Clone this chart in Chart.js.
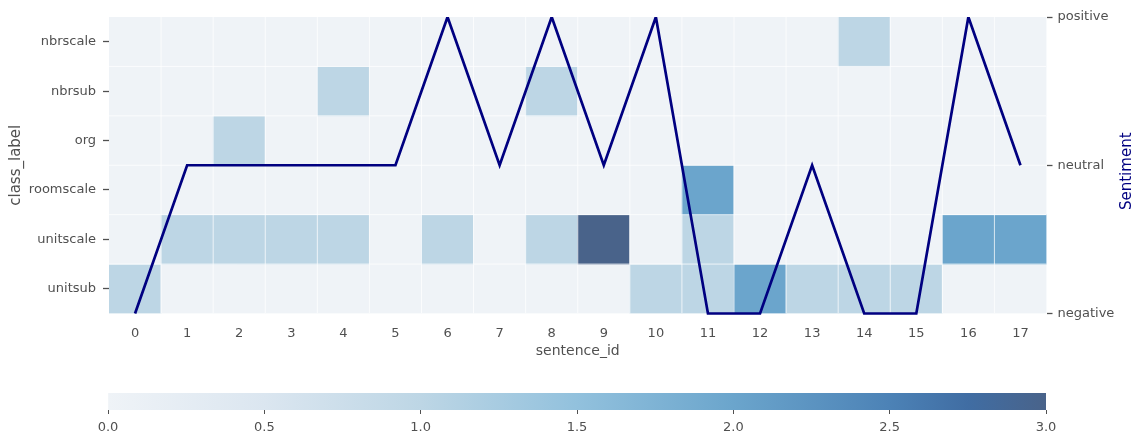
<!DOCTYPE html>
<html>
<head>
<meta charset="utf-8">
<script src="https://cdn.jsdelivr.net/npm/chart.js@4.4.1/dist/chart.umd.min.js"></script>
<style>
  html, body { margin: 0; padding: 0; background: #ffffff; }
  #wrap { position: relative; width: 1134px; height: 432px; overflow: hidden; }
  #heat { position: absolute; left: 0; top: 0; }
  #scale { position: absolute; left: 0; top: 380px; }
</style>
</head>
<body>
<div id="wrap">
  <canvas id="heat" width="1134" height="370"></canvas>
  <canvas id="scale" width="1134" height="52"></canvas>
</div>
<script>
// ---- data ----
const sentenceIds = ['0','1','2','3','4','5','6','7','8','9','10','11','12','13','14','15','16','17'];
const classLabels = ['nbrscale', 'nbrsub', 'org', 'roomscale', 'unitscale', 'unitsub'];

const nbrscaleCounts  = [0,0,0,0,0,0,0,0,0,0,0,0,0,0,1,0,0,0];
const nbrsubCounts    = [0,0,0,0,1,0,0,0,1,0,0,0,0,0,0,0,0,0];
const orgCounts       = [0,0,1,0,0,0,0,0,0,0,0,0,0,0,0,0,0,0];
const roomscaleCounts = [0,0,0,0,0,0,0,0,0,0,0,2,0,0,0,0,0,0];
const unitscaleCounts = [0,1,1,1,1,0,1,0,1,3,0,1,0,0,0,0,2,2];
const unitsubCounts   = [1,0,0,0,0,0,0,0,0,0,1,1,2,1,1,1,0,0];

const sentimentLabels = ['negative', 'neutral', 'positive'];
const sentimentValues = [0,1,1,1,1,1,2,1,2,1,2,0,0,1,0,0,2,1];

const colorbarMin = 0;
const colorbarMax = 3;
const colorbarStep = 0.5;

// ---- colour map (value -> rgb) ----
const cmapStops = [
  [0.00, [239, 243, 247]],
  [0.50, [219, 230, 240]],
  [1.00, [189, 214, 229]],
  [1.50, [146, 193, 221]],
  [2.00, [107, 165, 204]],
  [2.50, [ 76, 130, 182]],
  [2.75, [ 64, 109, 163]],
  [3.00, [ 73,  99, 138]]
];
function cmap(v) {
  if (v <= cmapStops[0][0]) return 'rgb(' + cmapStops[0][1].join(',') + ')';
  for (let i = 1; i < cmapStops.length; i++) {
    const [v1, c1] = cmapStops[i];
    const [v0, c0] = cmapStops[i - 1];
    if (v <= v1) {
      const t = (v - v0) / (v1 - v0);
      const c = c0.map((a, k) => Math.round(a + (c1[k] - a) * t));
      return 'rgb(' + c.join(',') + ')';
    }
  }
  return 'rgb(' + cmapStops[cmapStops.length - 1][1].join(',') + ')';
}

const FONT = '"DejaVu Sans", "Liberation Sans", sans-serif';
const TEXT = '#505050';
const LINE = '#000080';
const TICK_SIZE = 13;

Chart.defaults.font.family = FONT;
Chart.defaults.color = TEXT;

const rowCounts = [nbrscaleCounts, nbrsubCounts, orgCounts, roomscaleCounts, unitscaleCounts, unitsubCounts];

// one floating-bar dataset per class row; each bar spans its row
const cellDatasets = rowCounts.map((counts, r) => ({
  type: 'bar',
  label: classLabels[r],
  data: counts.map(() => [r - 0.5, r + 0.5]),
  backgroundColor: counts.map(cmap),
  borderWidth: 0,
  barPercentage: 1,
  categoryPercentage: 1,
  grouped: false,
  yAxisID: 'y',
  order: 1
}));

// white cell separators, painted after the cells and before the sentiment line
const cellLines = {
  id: 'cellLines',
  beforeDatasetDraw(chart, args) {
    if (args.meta.type !== 'line') return;
    const { ctx, chartArea: a, scales } = chart;
    const x = scales.x, y = scales.y;
    ctx.save();
    ctx.strokeStyle = 'rgba(255,255,255,0.75)';
    ctx.lineWidth = 1;
    ctx.beginPath();
    for (let i = 1; i < sentenceIds.length; i++) {
      const px = (x.getPixelForValue(i - 1) + x.getPixelForValue(i)) / 2;
      ctx.moveTo(px, a.top);
      ctx.lineTo(px, a.bottom);
    }
    for (let r = 1; r < classLabels.length; r++) {
      const py = y.getPixelForValue(r - 0.5);
      ctx.moveTo(a.left, py);
      ctx.lineTo(a.right, py);
    }
    ctx.stroke();
    ctx.restore();
  }
};

// right-hand axis title, reading bottom to top
const sentimentTitle = {
  id: 'sentimentTitle',
  afterDraw(chart) {
    const { ctx, chartArea: a } = chart;
    ctx.save();
    ctx.translate(chart.width - 7, (a.top + a.bottom) / 2 + 6);
    ctx.rotate(-Math.PI / 2);
    ctx.font = '15px ' + FONT;
    ctx.fillStyle = LINE;
    ctx.textAlign = 'center';
    ctx.textBaseline = 'middle';
    ctx.fillText('Sentiment', 0, 0);
    ctx.restore();
  }
};

new Chart(document.getElementById('heat'), {
  type: 'bar',
  data: {
    labels: sentenceIds,
    datasets: [
      {
        type: 'line',
        label: 'Sentiment',
        data: sentimentValues,
        yAxisID: 'y2',
        borderColor: LINE,
        backgroundColor: LINE,
        borderWidth: 2.7,
        pointRadius: 0,
        tension: 0,
        fill: false,
        clip: { left: 0, top: 0, right: 0, bottom: 2 },
        order: 0
      },
      ...cellDatasets
    ]
  },
  options: {
    responsive: false,
    animation: false,
    events: [],
    layout: { padding: { top: 17, left: 0, right: 0, bottom: 0 } },
    plugins: { legend: { display: false }, tooltip: { enabled: false } },
    scales: {
      x: {
        type: 'category',
        offset: true,
        grid: { display: false, drawTicks: false },
        border: { display: false },
        ticks: { font: { size: TICK_SIZE }, color: TEXT, padding: 12, maxRotation: 0, autoSkip: false },
        title: { display: true, text: 'sentence_id', font: { size: 14 }, color: TEXT, padding: { top: 0, bottom: 10 } },
        afterFit(s) { s.height = 56.5; }
      },
      y: {
        type: 'linear',
        position: 'left',
        reverse: true,
        min: -0.5,
        max: 5.5,
        grid: { drawOnChartArea: false, drawTicks: true, tickLength: 6, tickColor: TEXT, tickWidth: 1.3 },
        border: { display: false },
        afterBuildTicks(s) { s.ticks = classLabels.map((_, i) => ({ value: i })); },
        ticks: {
          font: { size: TICK_SIZE },
          color: TEXT,
          padding: 7,
          callback: v => classLabels[v]
        },
        title: { display: true, text: 'class_label', font: { size: 15 }, color: TEXT, padding: { top: 7, bottom: 0 } },
        afterFit(s) { s.width = 109; }
      },
      y2: {
        type: 'linear',
        position: 'right',
        min: 0,
        max: 2,
        grid: { drawOnChartArea: false, drawTicks: true, tickLength: 6, tickColor: TEXT, tickWidth: 1.3 },
        border: { display: false },
        afterBuildTicks(s) { s.ticks = sentimentLabels.map((_, i) => ({ value: i })); },
        ticks: {
          font: { size: TICK_SIZE },
          color: TEXT,
          padding: 5,
          callback: v => sentimentLabels[v]
        },
        afterFit(s) { s.width = 87.5; }
      }
    }
  },
  plugins: [cellLines, sentimentTitle]
});

// ---- colour bar ----
function cmapGradient(context) {
  const chart = context.chart;
  const x = chart.scales.x;
  if (!x || !chart.chartArea) return cmap(colorbarMax);
  const x0 = x.getPixelForValue(colorbarMin);
  const x1 = x.getPixelForValue(colorbarMax);
  const g = chart.ctx.createLinearGradient(x0, 0, x1, 0);
  cmapStops.forEach(([v, c]) => {
    g.addColorStop((v - colorbarMin) / (colorbarMax - colorbarMin), 'rgb(' + c.join(',') + ')');
  });
  return g;
}

new Chart(document.getElementById('scale'), {
  type: 'bar',
  data: {
    labels: [''],
    datasets: [{
      data: [[colorbarMin, colorbarMax]],
      backgroundColor: cmapGradient,
      borderWidth: 0,
      barPercentage: 1,
      categoryPercentage: 1
    }]
  },
  options: {
    indexAxis: 'y',
    responsive: false,
    animation: false,
    events: [],
    layout: { padding: { top: 13, left: 108, right: 88, bottom: 0 } },
    plugins: { legend: { display: false }, tooltip: { enabled: false } },
    scales: {
      x: {
        type: 'linear',
        min: colorbarMin,
        max: colorbarMax,
        grid: { drawOnChartArea: false, drawTicks: true, tickLength: 4, tickColor: TEXT, tickWidth: 1 },
        border: { display: false },
        ticks: {
          stepSize: colorbarStep,
          font: { size: TICK_SIZE },
          color: TEXT,
          padding: 6,
          maxRotation: 0,
          callback: v => v.toFixed(1)
        },
        afterFit(s) { s.height = 22; }
      },
      y: { type: 'category', display: false }
    }
  }
});
</script>
</body>
</html>
